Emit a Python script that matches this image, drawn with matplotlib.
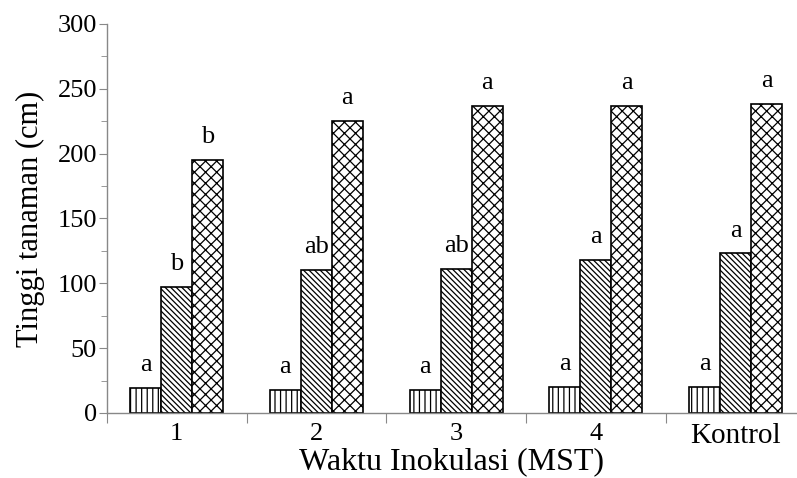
import matplotlib.pyplot as plt
import numpy as np

plt.rcParams["font.family"] = ["Liberation Serif", "DejaVu Serif"]
plt.rcParams["hatch.linewidth"] = 0.9

groups = ["1", "2", "3", "4", "Kontrol"]
series_a = [19, 18, 18, 20, 20]
series_b = [97, 110, 111, 118, 123]
series_c = [195, 225, 237, 237, 238]
letters_a = ["a", "a", "a", "a", "a"]
letters_b = ["b", "ab", "ab", "a", "a"]
letters_c = ["b", "a", "a", "a", "a"]

fig = plt.figure(figsize=(7.97, 4.78), dpi=100)
ax = fig.add_axes([0.134, 0.136, 0.866, 0.814])

x = np.arange(len(groups))
w = 0.222
hatches = ["|||", "\\\\\\\\\\\\", "xxx"]
all_series = [series_a, series_b, series_c]
all_letters = [letters_a, letters_b, letters_c]

for i, (vals, labs) in enumerate(zip(all_series, all_letters)):
    pos = x + (i - 1) * w
    ax.bar(pos, vals, width=w, color="white", edgecolor="black",
           linewidth=1.2, hatch=hatches[i])
    for p, v, t in zip(pos, vals, labs):
        ax.text(p, v + 13, t, ha="center", va="baseline", fontsize=19)

ax.set_xlim(-0.5, 4.44)
ax.set_ylim(0, 300)

ax.spines["top"].set_visible(False)
ax.spines["right"].set_visible(False)
for s in ["left", "bottom"]:
    ax.spines[s].set_color("#888888")
    ax.spines[s].set_linewidth(1.0)

ax.set_yticks(np.arange(0, 301, 50))
ax.set_yticks(np.arange(25, 300, 50), minor=True)
ax.tick_params(axis="y", which="major", length=6, color="#888888",
               labelsize=19, pad=1)
ax.tick_params(axis="y", which="minor", length=4, color="#888888")

ax.set_xticks(np.arange(-0.5, 4.0, 1.0))
ax.set_xticklabels([])
ax.set_xticks(x, minor=True)
ax.set_xticklabels(groups, minor=True)
ax.tick_params(axis="x", which="major", length=7, color="#888888")
ax.tick_params(axis="x", which="minor", length=0, labelsize=19, pad=7)
ax.get_xticklabels(minor=True)[-1].set_fontsize(21)

ax.set_xlabel("Waktu Inokulasi (MST)", fontsize=23, labelpad=-1)
ax.set_ylabel("Tinggi tanaman (cm)", fontsize=22, labelpad=9)

fig.savefig("out.png", dpi=100)
